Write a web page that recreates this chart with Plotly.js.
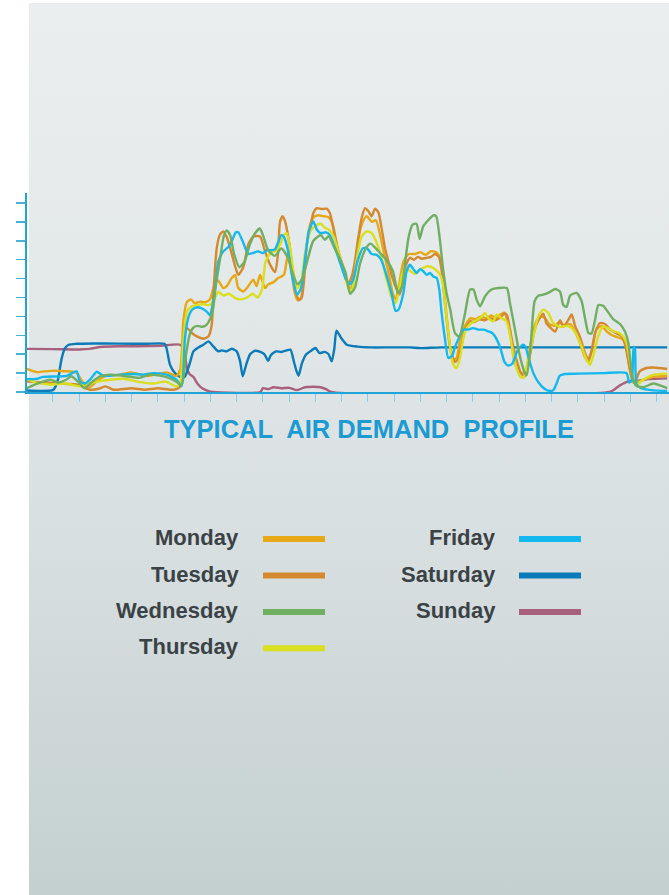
<!DOCTYPE html>
<html>
<head>
<meta charset="utf-8">
<script src="https://cdn.plot.ly/plotly-3.0.1.min.js"></script>
<style>
html,body{margin:0;padding:0;background:#ffffff;}
#bg{position:absolute;left:29px;top:3px;width:640px;height:892px;background:linear-gradient(to bottom,#EAEEEF 0%,#E4E9EA 30%,#D8DFE0 60%,#C4D0D0 100%);}
#chart{position:absolute;left:0;top:0;width:669px;height:895px;}
</style>
</head>
<body>
<div id="bg"></div>
<div id="chart"></div>
<script>
// ---- DATA (hours of day, air demand) ----
const dayNames = ["Monday","Tuesday","Wednesday","Thursday","Friday","Saturday","Sunday"];
const dayColors = ["#E6A817","#D4892F","#70AE62","#D9DF1E","#14B8EE","#0A7BB8","#A8607C"];

const monHours = [0,0.4,0.9,1.5,1.9,2.1,2.35,2.7,3.0,3.5,3.95,4.6,5.0,5.35,5.7,5.85,5.97,6.1,6.25,6.4,6.6,6.8,6.98,7.11,7.24,7.36,7.49,7.62,7.81,7.94,8.06,8.25,8.44,8.63,8.76,8.89,9.08,9.2,9.39,9.58,9.8,9.95,10.05,10.2,10.32,10.45,10.6,10.75,10.9,11.1,11.3,11.5,11.65,11.85,12.05,12.25,12.35,12.5,12.65,12.8,12.95,13.15,13.3,13.45,13.6,13.8,13.95,14.05,14.2,14.35,14.55,14.8,15.0,15.2,15.4,15.6,15.75,15.87,16.0,16.13,16.25,16.38,16.5,16.7,16.9,17.1,17.3,17.5,17.7,17.9,18.05,18.2,18.3,18.45,18.6,18.85,19.0,19.2,19.37,19.56,19.75,19.9,20.1,20.3,20.5,20.7,20.85,21.05,21.25,21.4,21.55,21.7,21.9,22.1,22.3,22.5,22.7,22.85,22.97,23.1,23.3,23.6,23.9,24.4];
const monValues = [1.22,1.05,1.12,1.1,1.02,0.6,0.22,0.6,0.85,0.9,1.04,0.85,0.95,1.04,0.85,1.2,3.8,4.75,4.9,4.7,4.78,4.75,4.9,5.5,5.94,5.77,5.5,5.6,6.03,6.2,5.5,5.32,5.6,5.94,5.6,6.2,5.5,5.7,5.8,6.03,6.2,7.3,6.8,5.3,4.85,5.0,7.0,8.6,9.2,9.35,9.3,9.25,8.9,7.6,6.6,5.6,5.5,6.4,8.2,9.0,9.3,9.0,9.1,8.4,7.4,6.2,5.2,4.9,5.8,6.9,7.3,7.3,7.4,7.25,7.45,7.4,7.1,5.8,4.0,2.4,1.7,1.8,2.7,3.5,3.9,3.85,4.0,3.9,4.05,3.9,4.1,4.2,3.8,2.8,1.5,1.0,1.1,2.6,3.6,4.0,3.9,3.6,3.5,3.7,3.5,3.6,3.3,2.7,1.9,1.6,2.3,3.3,3.5,3.2,3.0,2.9,2.8,2.3,1.2,0.5,0.55,0.7,0.8,0.85];

const tueHours = [0,0.6,1.2,1.9,2.4,2.8,3.0,3.3,4.0,4.5,5.0,5.6,5.85,5.97,6.1,6.29,6.48,6.73,6.92,7.05,7.11,7.24,7.36,7.49,7.62,7.75,7.94,8.06,8.25,8.44,8.64,8.89,9.08,9.27,9.46,9.57,9.65,9.75,9.85,9.97,10.05,10.15,10.28,10.38,10.48,10.57,10.67,10.8,10.92,11.05,11.24,11.43,11.55,11.68,11.81,11.94,12.13,12.25,12.38,12.5,12.63,12.76,12.89,13.0,13.14,13.27,13.4,13.52,13.65,13.78,13.9,14.1,14.2,14.3,14.4,14.5,14.6,14.75,14.9,15.05,15.25,15.4,15.55,15.7,15.8,15.9,16.0,16.1,16.2,16.3,16.42,16.55,16.7,16.9,17.05,17.25,17.45,17.65,17.85,18.05,18.2,18.3,18.4,18.55,18.7,18.85,19.0,19.18,19.37,19.56,19.68,19.81,19.95,20.13,20.32,20.44,20.63,20.76,20.89,21.08,21.27,21.39,21.52,21.65,21.84,22.03,22.22,22.47,22.66,22.78,22.91,23.04,23.16,23.35,23.6,23.86,24.4];
const tueValues = [0.55,0.52,0.45,0.4,0.12,0.2,0.3,0.12,0.2,0.12,0.2,0.12,0.3,2.9,3.39,3.12,2.94,2.82,2.94,3.56,5.15,7.62,8.32,8.5,8.2,7.62,6.65,6.2,6.6,7.8,8.23,8.23,7.44,6.74,6.35,7.26,9.0,9.3,9.0,8.15,7.4,6.0,5.15,4.85,5.0,6.0,7.8,8.67,9.47,9.73,9.68,9.7,9.47,8.67,7.8,6.91,6.2,5.68,6.1,6.9,8.15,9.21,9.73,9.6,9.3,9.7,9.5,8.67,7.62,6.91,6.2,5.41,5.15,5.6,6.5,6.9,7.1,7.0,7.15,7.05,7.1,7.15,7.3,7.15,6.5,5.15,3.8,2.6,2.0,1.6,1.7,2.4,3.3,3.75,3.7,3.85,3.8,3.9,3.8,3.95,4.15,4.05,3.4,2.3,1.5,0.95,0.85,2.0,3.4,3.95,4.15,3.6,3.4,3.2,3.8,3.45,3.8,4.1,3.5,2.9,2.06,1.71,2.2,3.1,3.65,3.6,3.3,3.1,2.94,2.6,1.71,0.83,0.48,1.09,1.27,1.3,1.22];

const wedHours = [0,0.5,0.9,1.2,1.5,1.7,1.95,2.2,2.5,2.8,3.2,3.7,4.3,4.7,5.3,5.7,5.9,6.08,6.2,6.34,6.5,6.7,6.85,7.0,7.1,7.2,7.36,7.5,7.62,7.75,7.9,8.1,8.3,8.5,8.7,8.88,9.0,9.2,9.45,9.7,9.95,10.15,10.32,10.5,10.7,10.92,11.2,11.36,11.5,11.7,11.95,12.15,12.32,12.5,12.7,12.92,13.1,13.3,13.5,13.7,13.95,14.15,14.3,14.42,14.55,14.7,14.85,14.97,15.1,15.3,15.5,15.6,15.72,15.85,16.0,16.13,16.32,16.48,16.7,16.89,17.02,17.14,17.27,17.46,17.71,17.97,18.29,18.41,18.6,18.79,18.98,19.05,19.2,19.35,19.5,19.68,19.94,20.13,20.32,20.44,20.57,20.7,20.95,21.14,21.27,21.4,21.52,21.65,21.78,21.97,22.16,22.35,22.6,22.79,22.92,23.05,23.2,23.49,23.87,24.4];
const wedValues = [0.2,0.5,0.65,0.5,0.65,0.83,0.55,0.2,0.55,0.83,0.92,0.85,0.75,0.92,0.8,0.55,0.35,2.08,3.0,3.39,3.5,3.45,3.55,3.9,4.4,5.6,7.0,8.2,8.55,8.3,7.3,6.6,6.9,7.8,8.4,8.65,8.3,7.5,7.2,7.6,7.1,6.2,5.7,6.0,7.0,8.0,8.3,8.05,8.25,7.7,7.0,6.3,5.2,5.5,6.8,7.6,7.85,7.6,7.3,7.0,6.4,5.22,5.6,6.9,8.2,8.85,8.9,8.1,8.75,9.1,9.35,9.3,8.3,6.65,5.2,4.4,3.1,2.94,4.18,5.42,5.42,4.88,4.53,5.06,5.42,5.5,5.5,4.7,3.3,1.89,1.0,0.9,2.5,4.8,5.1,5.15,5.3,5.45,5.3,4.6,4.5,5.1,5.24,4.8,3.9,3.12,3.1,3.8,4.6,4.55,4.2,3.85,3.6,3.2,2.6,1.0,0.35,0.25,0.45,0.2];

const thuHours = [0,0.4,0.9,1.5,2.0,2.2,2.7,3.2,3.7,4.2,4.8,5.3,5.7,5.85,5.95,6.1,6.25,6.5,6.7,6.95,7.1,7.3,7.5,7.7,7.95,8.15,8.4,8.6,8.8,8.96,9.1,9.3,9.5,9.65,9.8,9.9,10.0,10.15,10.3,10.45,10.6,10.8,11.0,11.2,11.35,11.5,11.7,11.9,12.1,12.3,12.4,12.55,12.75,12.95,13.15,13.3,13.5,13.7,13.9,14.05,14.2,14.35,14.55,14.8,15.0,15.3,15.5,15.7,15.85,15.95,16.12,16.25,16.38,16.5,16.7,16.89,17.14,17.33,17.46,17.59,17.78,17.9,18.09,18.28,18.41,18.54,18.66,18.79,18.92,19.11,19.3,19.49,19.68,19.87,20.06,20.32,20.57,20.76,20.95,21.14,21.33,21.46,21.58,21.77,21.96,22.15,22.34,22.53,22.72,22.85,22.97,23.1,23.23,23.48,23.86,24.4];
const thuValues = [0.7,0.48,0.4,0.45,0.3,0.4,0.55,0.65,0.7,0.55,0.45,0.55,0.3,0.5,2.5,4.2,4.5,4.6,4.65,4.6,4.8,5.3,5.1,5.2,4.97,4.9,5.0,5.2,5.0,5.4,6.9,7.35,7.5,7.8,8.3,8.4,7.9,6.5,5.5,5.8,7.3,8.5,8.8,8.9,8.7,8.6,8.2,7.3,6.3,5.3,5.4,6.8,8.2,8.5,8.4,8.0,7.2,6.0,5.0,4.7,5.5,6.4,6.45,6.25,6.5,6.65,6.55,6.3,5.8,4.5,2.5,1.44,1.27,1.8,3.21,3.6,3.8,3.99,4.18,3.9,3.74,4.1,3.9,3.74,3.03,1.97,1.27,0.83,0.74,1.7,2.94,4.0,4.36,4.18,3.65,3.45,3.5,3.38,3.03,2.41,1.71,1.44,1.9,2.94,3.47,3.38,3.21,3.15,2.94,2.6,1.7,0.74,0.39,0.65,0.91,0.97];

const friHours = [0,0.38,0.63,1.52,1.9,2.03,2.22,2.41,2.67,2.92,3.55,4.06,4.43,4.82,5.33,5.71,5.9,6.03,6.15,6.3,6.48,6.65,6.85,6.98,7.08,7.18,7.3,7.49,7.7,7.85,7.97,8.06,8.25,8.44,8.6,8.82,9.0,9.14,9.3,9.46,9.6,9.7,9.8,9.95,10.1,10.3,10.45,10.6,10.75,10.92,11.05,11.2,11.4,11.55,11.75,11.95,12.15,12.32,12.45,12.6,12.8,12.95,13.14,13.33,13.5,13.7,13.9,14.05,14.16,14.35,14.47,14.6,14.73,14.86,14.98,15.1,15.24,15.36,15.5,15.62,15.72,15.8,15.93,16.06,16.2,16.32,16.45,16.63,16.82,17.0,17.2,17.4,17.6,17.75,17.9,18.05,18.2,18.35,18.5,18.7,18.9,19.0,19.1,19.3,19.5,19.7,19.94,20.06,20.2,20.3,20.5,21.0,22.0,22.85,22.95,23.05,23.12,23.17,23.23,23.4,23.8,24.4];
const friValues = [0.69,0.69,0.8,0.85,1.09,0.55,0.45,0.65,1.07,0.85,0.92,0.95,0.92,1.0,0.92,0.65,0.3,2.86,3.9,4.35,4.48,4.44,4.27,4.06,4.6,5.5,6.91,7.44,7.7,8.1,8.45,8.45,7.9,7.3,7.35,7.44,7.35,7.5,7.5,7.55,8.0,8.3,8.2,7.5,6.2,5.15,5.5,7.0,8.5,9.03,8.6,8.4,8.45,8.3,7.6,6.8,6.0,5.7,6.0,6.9,7.6,7.62,7.3,7.26,7.0,6.2,5.2,4.3,4.35,5.24,6.38,6.73,6.5,6.3,6.5,6.4,6.2,6.3,6.1,6.03,5.4,4.27,2.86,1.8,1.9,2.4,2.8,3.3,3.3,3.38,3.3,3.3,3.2,3.1,2.8,2.3,1.6,1.4,1.5,2.2,2.5,2.4,1.9,1.0,0.5,0.2,0.05,0.1,0.5,0.85,0.95,0.97,1.0,1.0,0.5,0.6,2.4,2.3,0.4,0.2,0.1,0.05];

const satHours = [0,0.5,1.0,1.1,1.2,1.32,1.45,1.6,1.9,2.5,3.5,4.5,5.25,5.33,5.46,5.65,5.9,6.03,6.22,6.35,6.54,6.73,6.92,7.11,7.3,7.43,7.62,7.81,8.0,8.13,8.23,8.36,8.51,8.7,8.9,9.05,9.2,9.3,9.5,9.7,9.9,10.05,10.18,10.28,10.36,10.48,10.65,10.85,11.0,11.15,11.35,11.5,11.62,11.72,11.8,11.98,12.2,12.6,13.1,13.8,14.6,15.0,15.8,24.4];
const satValues = [0.08,0.06,0.1,0.3,0.7,1.7,2.3,2.5,2.55,2.57,2.56,2.55,2.55,2.3,1.44,1.0,0.75,0.83,1.55,2.15,2.36,2.5,2.68,2.41,2.15,2.2,2.15,2.29,2.15,1.62,0.83,1.44,2.0,2.18,2.12,2.0,1.65,1.95,2.15,2.12,2.2,2.24,1.6,1.1,0.86,1.5,2.0,2.2,2.33,2.06,2.12,2.0,1.62,2.3,3.24,2.86,2.5,2.4,2.36,2.36,2.36,2.32,2.36,2.36];

const sunHours = [0,1.0,2.0,2.4,2.8,3.5,4.2,5.1,5.85,6.0,6.1,6.2,6.35,6.5,6.7,6.9,7.1,8.9,9.0,9.2,9.4,9.7,10.0,10.3,10.6,10.9,11.2,11.4,11.6,22.2,22.4,22.6,22.8,23.0,23.3,23.7,24.4];
const sunValues = [2.28,2.27,2.25,2.28,2.38,2.42,2.42,2.45,2.5,2.2,1.3,0.95,0.8,0.45,0.18,0.06,0.0,0.0,0.2,0.15,0.25,0.2,0.22,0.1,0.25,0.28,0.25,0.15,0.0,0.0,0.15,0.35,0.5,0.58,0.6,0.68,0.72];

const chartTitle = "TYPICAL\u00A0 AIR DEMAND\u00A0 PROFILE";

// ---- LAYOUT GEOMETRY ----
const W = 669, H = 895;
const mL = 27, mR = 0, mT = 193, mB = 503;
const plotW = W - mL - mR, plotH = H - mT - mB;
const px2x = px => (px - mL) / plotW;
const py2y = py => (H - mB - py) / plotH;

const hoursList = [monHours, tueHours, wedHours, thuHours, friHours, satHours, sunHours];
const valuesList = [monValues, tueValues, wedValues, thuValues, friValues, satValues, sunValues];

const traces = dayNames.map((name, i) => ({
  type: 'scatter', mode: 'lines', name: name,
  x: hoursList[i], y: valuesList[i],
  line: {color: dayColors[i], width: 2.4, shape: 'spline', smoothing: 0.6},
  hoverinfo: 'skip'
}));
const order = [6,5,0,1,3,4,2];
const data = order.map(i => traces[i]);

const annotations = [{
  text: chartTitle, xref: 'paper', yref: 'paper',
  x: px2x(368.5), y: py2y(429), xanchor: 'center', yanchor: 'middle', showarrow: false,
  font: {family: 'Liberation Sans, Arial, sans-serif', size: 25.5, color: '#1B9BD1', weight: 'bold'}
}];
const shapes = [];
const colText = [241, 497.5];
const colLine = [[263, 325], [519, 581]];
const rowY = [539, 575.5, 612, 648.3];
dayNames.forEach((name, i) => {
  const col = i < 4 ? 0 : 1;
  const row = i < 4 ? i : i - 4;
  const yy = rowY[row];
  annotations.push({
    text: '<b>' + name + '</b>', xref: 'paper', yref: 'paper',
    x: px2x(colText[col]), y: py2y(yy - 1.5), xanchor: 'right', yanchor: 'middle', showarrow: false,
    font: {family: 'Liberation Sans, Arial, sans-serif', size: 22, color: '#3A4246'}
  });
  shapes.push({
    type: 'line', xref: 'paper', yref: 'paper',
    x0: px2x(colLine[col][0]), x1: px2x(colLine[col][1]), y0: py2y(yy), y1: py2y(yy),
    line: {color: dayColors[i], width: 6}
  });
});

const layout = {
  width: W, height: H,
  margin: {l: mL, r: mR, t: mT, b: mB, pad: 0},
  paper_bgcolor: 'rgba(0,0,0,0)', plot_bgcolor: 'rgba(0,0,0,0)',
  showlegend: false,
  xaxis: {
    range: [(mL - 26.7)/26.25, (W - 26.7)/26.25],
    showgrid: false, zeroline: false, showline: true, linecolor: '#1EA6D6', linewidth: 2,
    ticks: 'outside', ticklen: 8, tickwidth: 1, tickcolor: '#8ACDE6', tick0: 0, dtick: 1,
    showticklabels: false, fixedrange: true
  },
  yaxis: {
    range: [0, plotH / 18.9],
    showgrid: false, zeroline: false, showline: true, linecolor: '#1EA6D6', linewidth: 2,
    ticks: 'outside', ticklen: 9, tickwidth: 1.5, tickcolor: '#4AB0DA', tick0: 0, dtick: 1,
    showticklabels: false, fixedrange: true
  },
  annotations: annotations,
  shapes: shapes
};

Plotly.newPlot('chart', data, layout, {displayModeBar: false, staticPlot: true});
</script>
</body>
</html>
